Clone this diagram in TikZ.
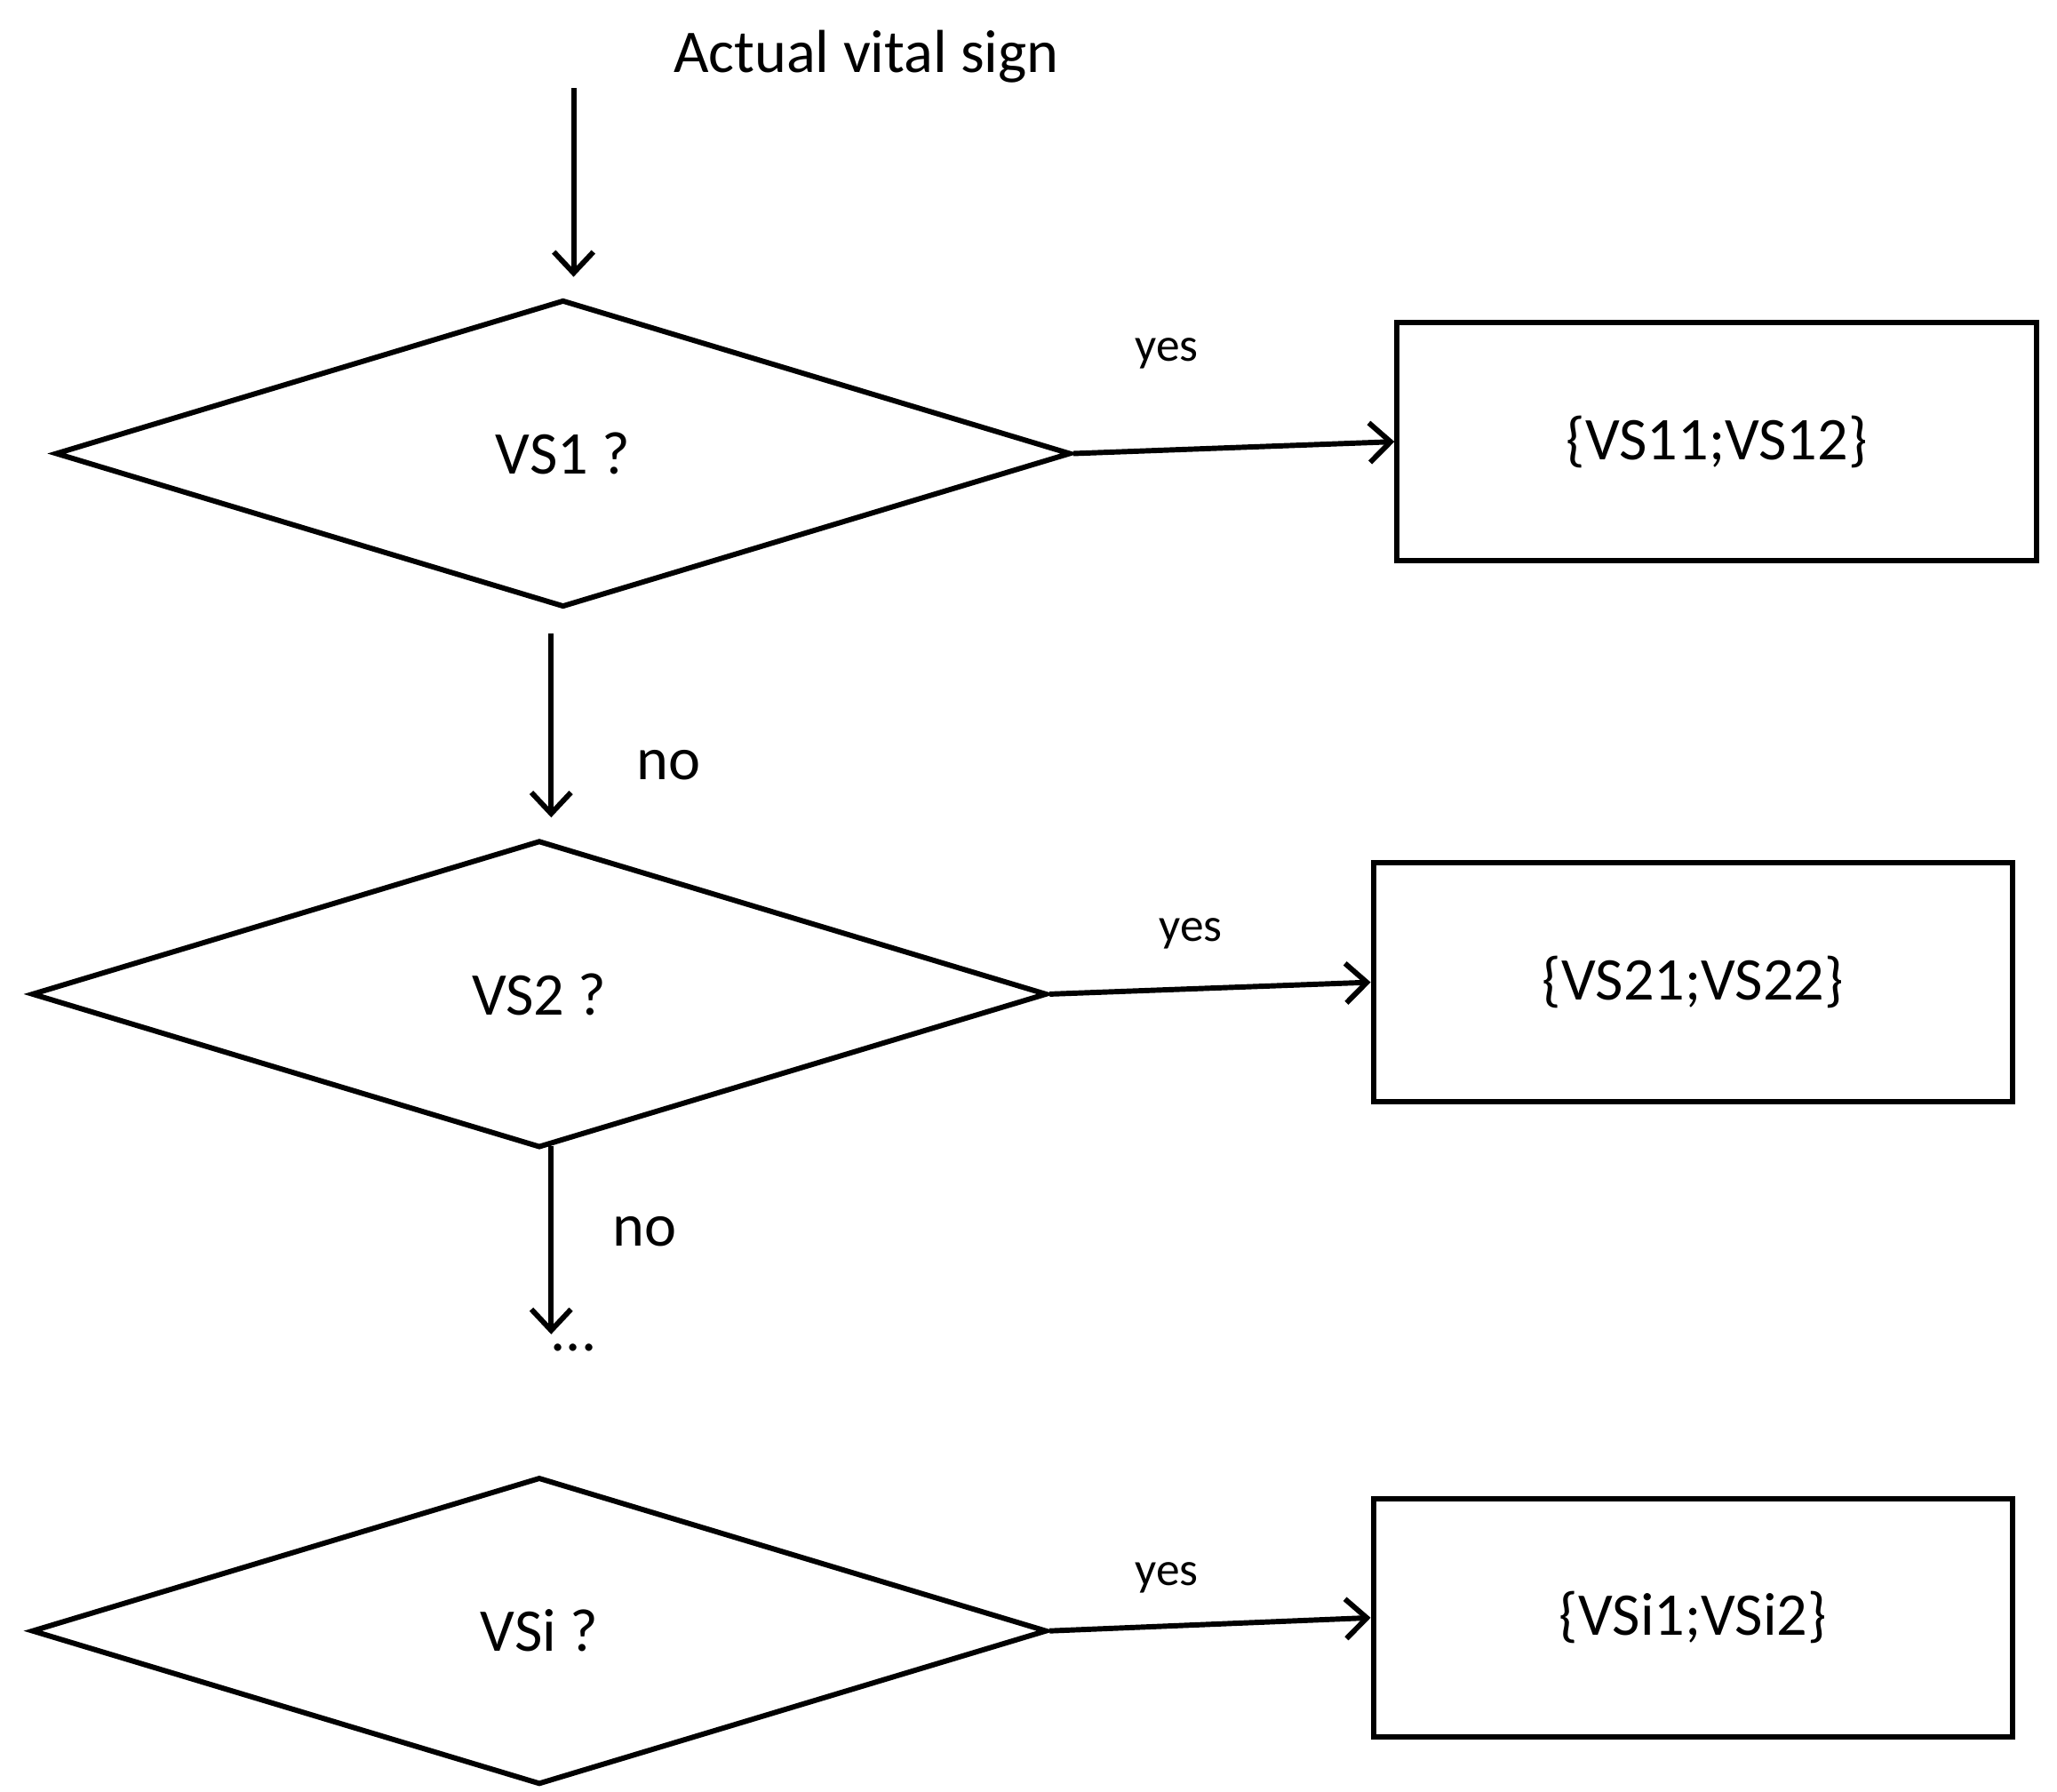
\documentclass[tikz,border=0pt]{standalone}
\usepackage{fontspec}
\setmainfont{Carlito}
\usetikzlibrary{shapes.geometric,arrows.meta}
\begin{document}
\begin{tikzpicture}[x=1pt,y=-1pt,
  dia/.style={draw,line width=4pt,diamond,inner sep=0pt,minimum width=770pt,minimum height=233pt,font=\fontsize{46}{50}\selectfont},
  box/.style={draw,line width=4pt,rectangle,minimum width=485pt,minimum height=181pt,font=\fontsize{46}{50}\selectfont},
  arr/.style={line width=4pt,-{Straight Barb[length=16pt,width=30pt,line width=4pt]}},
  lbl/.style={font=\fontsize{46}{50}\selectfont},
  small/.style={font=\fontsize{36}{40}\selectfont}]
\useasboundingbox (0,0) rectangle (1560,1359);
\node[dia] (d1) at (427,344) {VS1 ?};
\node[dia] (d2) at (409,754) {VS2 ?};
\node[dia] (d3) at (409,1237) {VSi ?};
\node[box] (b1) at (1302,335) {\{VS11;VS12\}};
\node[box] (b2) at (1284,745) {\{VS21;VS22\}};
\node[box] (b3) at (1284,1227) {\{VSi1;VSi2\}};
\node[lbl] (t) at (657,43) {Actual vital sign};
\coordinate (s) at (435,67);
\coordinate (e) at (435,210);
\draw[arr] (s) -- (e);
\node[lbl,inner sep=0pt] (dots) at (435,1022) {...};
\draw[arr,shorten <=18pt,shorten >=16pt] (d1.south -| 418,0) -- (418,636) coordinate (n1);
\draw[arr] (418,869) coordinate (s2) -- (418,1012) coordinate (e2);
\draw[arr] (d1.east) -- (b1.west);
\draw[arr] (d2.east) -- (b2.west);
\draw[arr] (d3.east) -- (b3.west);
\node[lbl] (no1) at (507,580) {no};
\node[lbl] (no2) at (489,934) {no};
\node[small] (y1) at (885,268) {yes};
\node[small] (y2) at (903,708) {yes};
\node[small] (y3) at (885,1197) {yes};
\end{tikzpicture}
\end{document}
